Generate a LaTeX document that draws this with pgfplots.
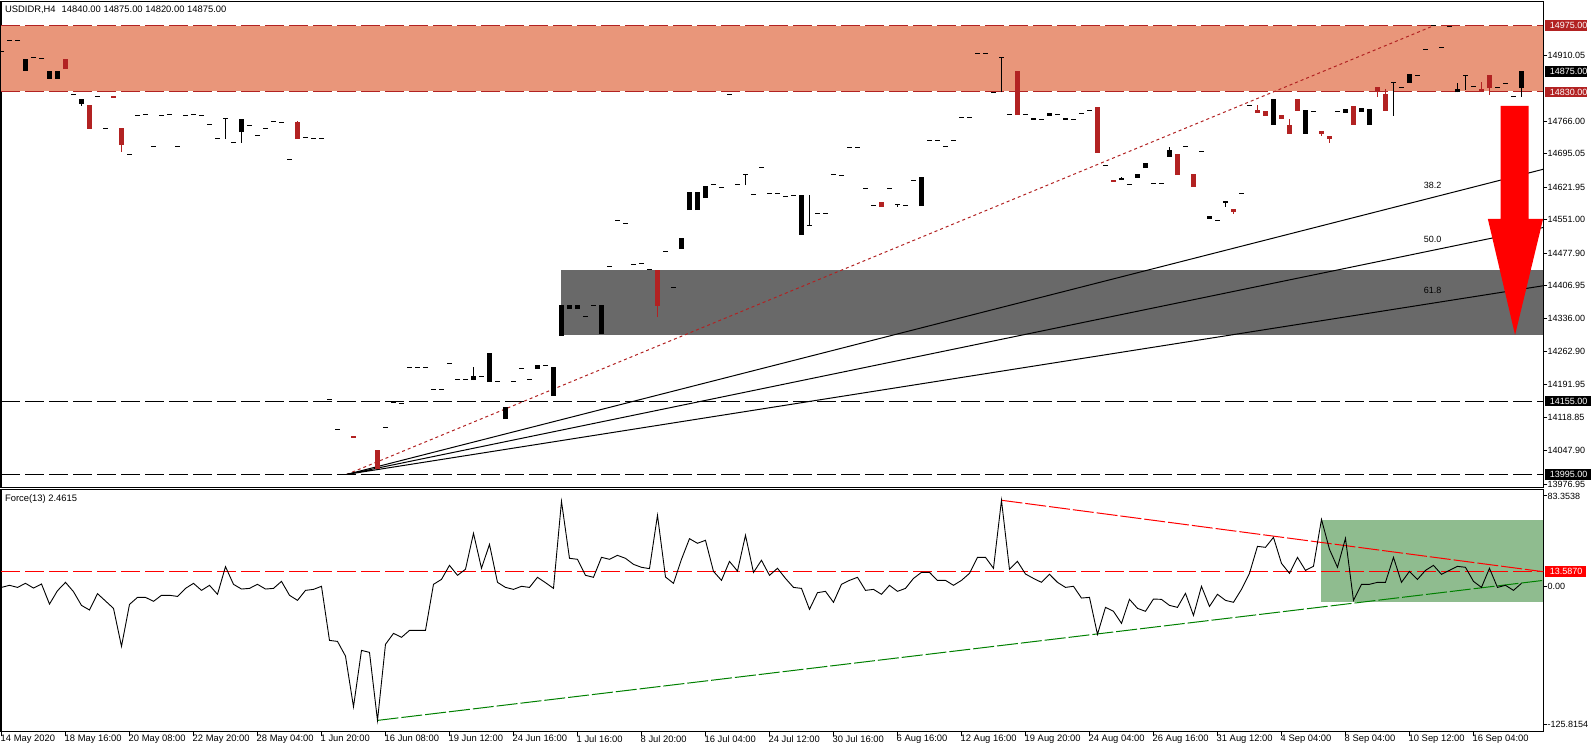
\documentclass[border=0pt]{standalone}
\usepackage{pgfplots}
\usepackage{pgfplotstable}
\usepackage{fontspec}
\setmainfont{Liberation Sans}
\pgfplotsset{compat=1.18}
\definecolor{salmonz}{HTML}{E9967A}
\definecolor{fire}{HTML}{B22222}
\definecolor{dimg}{HTML}{696969}
\definecolor{seag}{HTML}{8FBC8F}
\definecolor{grn}{HTML}{008000}
\newcommand{\fs}{\fontsize{9}{10}\selectfont}
\newcommand{\fl}{\fontsize{9.4}{10}\selectfont}
% columns: bar index, lower and upper price of the candle body
\pgfplotstableread{
i lo hi
3 14875.7 14901.9
6 14858.2 14875.7
7 14858.2 14875.7
10 14803.7 14814.6
30 14742.5 14770.9
59 14201.1 14209.8
61 14196.7 14260
63 14115.9 14142.2
67 14225.1 14233.9
69 14166.2 14229.5
70 14297.2 14364.9
71 14356.1 14364.9
72 14356.1 14364.9
75 14301.5 14364.9
85 14487.1 14510.4
86 14572.2 14611.5
87 14572.2 14611.5
88 14598.4 14624.6
100 14517.7 14605
115 14580.9 14644.3
129 14769.4 14773.1
131 14777.5 14784
133 14769.4 14773.1
140 14637.7 14642.1
142 14642.1 14650.8
143 14663.9 14674.1
146 14688 14703.2
151 14552.6 14559.2
153 14588.2 14591.1
159 14757.8 14814.6
163 14738.2 14790.6
168 14784 14792.7
170 14786.2 14794.9
171 14757.8 14792.7
176 14849.5 14869.1
182 14829.1 14836.4
190 14838.6 14875.7
}\blackbody
\pgfplotstableread{
i lo hi
8 14880 14901.9
11 14749.1 14801.5
14 14816.8 14821.1
15 14714.1 14751.3
37 14727.2 14764.4
44 14075.2 14078.9
47 14007.5 14048.3
82 14362.7 14441.2
110 14578.8 14589.7
127 14779.6 14875.7
137 14696.7 14797.1
139 14633.4 14637.7
147 14648.6 14694.5
149 14622.5 14650.8
154 14568 14574.4
157 14784 14790.6
158 14777.5 14788.4
160 14770.9 14779.6
161 14738.2 14757.8
162 14788.4 14814.6
165 14738.2 14744.7
166 14727.2 14733.8
169 14757.8 14799.3
172 14832 14840.8
173 14788.4 14825.5
185 14832 14835.7
186 14838.6 14867
}\redbody
\pgfplotstableread{
i lo hi
10 14799.3 14814.6
28 14727.2 14770.9
30 14718.5 14770.9
59 14201.1 14229.5
93 14626.8 14650.1
101 14538.8 14605
112 14578.8 14584.6
125 14829.1 14905.5
140 14637.7 14644.3
146 14688 14709.8
153 14578.8 14591.1
174 14777.5 14850.9
182 14829.1 14849.5
183 14834.2 14866.2
190 14819 14875.7
}\blackwick
\pgfplotstableread{
i lo hi
15 14698.9 14714.1
37 14764.4 14766.5
82 14338.6 14362.7
154 14563.5 14574.4
157 14784 14800.7
161 14757.8 14770.9
165 14733.8 14744.7
166 14718.5 14733.8
172 14819 14840.8
173 14825.5 14836.4
185 14832 14851.7
186 14823.3 14867
}\redwick
\pgfplotstableread{
i p
0 14918.6
1 14942.6
2 14942.6
4 14905.5
5 14903.4
9 14824.8
12 14820.4
13 14750.5
16 14693.8
17 14778.9
18 14781.1
19 14709.8
20 14778.9
21 14781.1
22 14709.8
23 14778.9
24 14781.1
25 14778.9
26 14759.2
27 14728.7
28 14770.9
29 14720
31 14757.1
32 14735.2
33 14750.5
34 14765.8
35 14763.6
36 14682.9
38 14730.9
39 14728.7
40 14728.7
41 14158.9
42 14093.4
43 13995.1
45 14001
46 14004.6
48 14097.8
49 14152.4
50 14150.2
51 14228.8
52 14228.8
53 14228.8
54 14180.7
55 14180.7
56 14237.5
57 14202.6
58 14202.6
60 14209.1
62 14198.2
64 14198.2
65 14226.6
66 14202.6
68 14233.1
73 14340.1
74 14364.1
76 14449.3
77 14549.7
78 14543.1
79 14453.6
80 14455.8
81 14442.7
83 14482
84 14403.4
89 14628.3
90 14621.7
91 14824.8
92 14628.3
93 14650.1
94 14606.4
95 14665.4
96 14608.6
97 14608.6
98 14602.1
99 14604.3
101 14538.8
102 14565
103 14565
104 14650.1
105 14647.9
106 14709
107 14709
108 14619.6
109 14582.4
111 14619.6
112 14584.6
113 14582.4
114 14637
116 14724.3
117 14724.3
118 14711.2
119 14724.3
120 14774.5
121 14774.5
122 14914.3
123 14914.3
124 14829.1
125 14905.5
126 14781.1
128 14781.1
130 14770.2
132 14781.1
134 14770.2
135 14783.3
136 14789.8
138 14669.8
141 14628.3
144 14630.5
145 14630.5
148 14709.8
150 14700.3
152 14549.7
155 14608.6
156 14800.7
164 14787.6
167 14787.6
174 14850.9
175 14840
177 14866.2
178 14923
179 14975.4
180 14927.4
181 14973
183 14866.2
184 14842.2
187 14840
188 14848.8
189 14820.4
}\doji
\pgfplotstableread{
i v
0 -1.0
1 0.9
2 -1.0
3 2.7
4 -1.6
5 2.1
6 -16.2
7 -4.0
8 3.6
9 -4.9
10 -17.4
11 -21.6
12 -6.7
13 -13.4
14 -20.1
15 -54.7
16 -16.5
17 -10.1
18 -10.1
19 -13.7
20 -8.2
21 -8.2
22 -9.2
23 -1.9
24 2.7
25 -3.7
26 0.9
27 -7.3
28 17.9
29 1.8
30 -2.5
31 -1.9
32 1.8
33 -2.5
34 -1.9
35 4.5
36 -8.2
37 -12.8
38 -3.7
39 -2.8
40 0.0
41 -49.3
42 -50.2
43 -63.6
44 -109.8
45 -58.4
46 -60.2
47 -122.2
48 -52.9
49 -42.9
50 -46.5
51 -40.2
52 -40.2
53 -40.2
54 1.8
55 6.3
56 19.1
57 10.0
58 15.5
59 48.3
60 16.4
61 38.2
62 3.6
63 -1.0
64 -2.8
65 0.0
66 -1.0
67 8.2
68 3.3
69 -1.9
70 77.4
71 25.5
72 24.6
73 10.0
74 8.2
75 26.4
76 24.6
77 28.2
78 25.5
79 20.0
80 17.3
81 16.1
82 64.7
83 8.5
84 2.7
85 24.6
86 43.4
87 39.2
88 41.9
89 13.6
90 5.4
91 22.7
92 13.9
93 46.5
94 12.7
95 23.7
96 10.0
97 16.4
98 7.2
99 -1.0
100 -1.9
101 -21.0
102 -5.8
103 -4.6
104 -14.6
105 1.8
106 5.4
107 8.2
108 -3.7
109 -2.8
110 -7.3
111 0.9
112 -4.6
113 -1.9
114 7.2
115 12.7
116 12.7
117 5.4
118 5.4
119 0.9
120 5.4
121 11.8
122 26.4
123 26.4
124 16.4
125 78.4
126 15.5
127 22.7
128 11.2
129 7.2
130 3.6
131 10.9
132 3.6
133 -1.0
134 0.0
135 -10.7
136 -10.1
137 -43.8
138 -19.2
139 -22.8
140 -33.8
141 -11.9
142 -20.1
143 -22.8
144 -11.6
145 -11.9
146 -17.4
147 -19.2
148 -6.4
149 -26.5
150 0.0
151 -18.3
152 -7.3
153 -12.8
154 -14.6
155 -2.8
156 11.8
157 36.4
158 35.5
159 44.6
160 20.9
161 11.8
162 26.4
163 14.5
164 18.2
165 61.0
166 33.7
167 17.3
168 43.7
169 -12.8
170 1.8
171 1.8
172 3.6
173 3.6
174 26.4
175 3.6
176 13.6
177 6.3
178 14.5
179 19.1
180 10.9
181 14.5
182 18.2
183 17.3
184 4.5
185 -1.0
186 16.4
187 -1.0
188 0.9
189 -3.7
190 2.7
}\force
\pgfplotsset{
  panel/.style={
    scale only axis, width=1542.3pt, clip mode=individual,
    xmin=-0.0625, xmax=192.73, scaled y ticks=false,
    axis line style={line width=1.2pt,black},
    tick style={line width=1pt,black},
    tick align=outside, major tick length=4pt,
    ytick pos=right, yticklabel pos=right,
    y tick label style={font=\fs,anchor=west,inner xsep=0pt},
  },
  bars/.style n args={2}{draw=none, mark=none, forget plot,
    error bars/.cd, y dir=plus, y explicit, error mark=none,
    error bar style={draw=#1,solid,line width=#2}},
}
\newcommand{\boxlab}[6]{% x, y, fill, text colour, width, label
  \node[anchor=west,inner xsep=0pt,inner ysep=0pt,minimum height=10.5pt,fill=#3,text=#4,font=\fs,xshift=1.8pt] at (axis cs:#1,#2) {\hspace{4.5pt}\makebox[#5][l]{#6}};}
\begin{document}
\begin{tikzpicture}[x=1pt,y=1pt]
\useasboundingbox (0,0) rectangle (1594,752);
\begin{axis}[panel, at={(1pt,264.7pt)}, anchor=south west, height=485.8pt,
  ymin=13966.9, ymax=15027.4, xtick=\empty,
  ytick={14910.05,14766,14695.05,14621.95,14551,14477.9,14406.95,14336,14262.9,14191.95,14118.85,14047.9,13973},
  yticklabels={14910.05,14766.00,14695.05,14621.95,14551.00,14477.90,14406.95,14336.00,14262.90,14191.95,14118.85,14047.90,13976.95}]
\addplot[fill=salmonz,draw=none,forget plot] coordinates {(-0.0625,14830)(192.73,14830)(192.73,14975)(-0.0625,14975)} -- cycle;
\addplot[fill=dimg,draw=none,forget plot] coordinates {(69.9,14299.4)(192.73,14299.4)(192.73,14441)(69.9,14441)} -- cycle;
\addplot[white,line width=1pt,forget plot] coordinates {(-0.0625,14975)(192.73,14975)};
\addplot[white,line width=1pt,forget plot] coordinates {(-0.0625,14830)(192.73,14830)};
\addplot[fire,line width=1pt,dash pattern=on 18.6pt off 5.4pt,forget plot] coordinates {(-0.0625,14975)(192.73,14975)};
\addplot[fire,line width=1pt,dash pattern=on 18.6pt off 5.4pt,forget plot] coordinates {(-0.0625,14830)(192.73,14830)};
\addplot[black,line width=1pt,dash pattern=on 18.6pt off 5.4pt,forget plot] coordinates {(-0.0625,14155)(192.73,14155)};
\addplot[black,line width=1pt,dash pattern=on 18.6pt off 5.4pt,forget plot] coordinates {(-0.0625,13995)(192.73,13995)};
% fan
\addplot[fire,line width=1pt,dash pattern=on 3pt off 3pt,forget plot] coordinates {(43.15,13995)(179.1,14975)};
\addplot[black,line width=1pt,forget plot] coordinates {(43.15,13995)(192.73,14661.2)};
\addplot[black,line width=1pt,forget plot] coordinates {(43.15,13995)(192.73,14534)};
\addplot[black,line width=1pt,forget plot] coordinates {(43.15,13995)(192.73,14406.9)};
% candles
\addplot[bars={black}{1pt}] table[x=i,y=lo,y error plus expr=\thisrow{hi}-\thisrow{lo},y error minus expr=0] {\blackwick};
\addplot[bars={fire}{1pt}] table[x=i,y=lo,y error plus expr=\thisrow{hi}-\thisrow{lo},y error minus expr=0] {\redwick};
\addplot[bars={black}{5pt}] table[x=i,y=lo,y error plus expr=\thisrow{hi}-\thisrow{lo},y error minus expr=0] {\blackbody};
\addplot[bars={fire}{5pt}] table[x=i,y=lo,y error plus expr=\thisrow{hi}-\thisrow{lo},y error minus expr=0] {\redbody};
\addplot[only marks,mark=-,mark size=2.5pt,mark options={line width=1pt,black},forget plot] table[x=i,y=p] {\doji};
% arrow
\addplot[fill=red,draw=none,forget plot] coordinates {(187.4,14799.3)(190.9,14799.3)(190.9,14552.6)(192.7,14552.6)(189.2,14299.4)(185.8,14552.6)(187.4,14552.6)} -- cycle;
\node[font=\fs,inner sep=0pt] at (axis cs:178.9,14625.3) {38.2};
\node[font=\fs,inner sep=0pt] at (axis cs:178.9,14509) {50.0};
\node[font=\fs,inner sep=0pt] at (axis cs:178.9,14396) {61.8};
\boxlab{192.73}{14975}{fire}{white}{37.5pt}{14975.00}
\boxlab{192.73}{14875}{black}{white}{37.5pt}{14875.00}
\boxlab{192.73}{14830}{fire}{white}{37.5pt}{14830.00}
\boxlab{192.73}{14155}{black}{white}{41.2pt}{14155.00}
\boxlab{192.73}{13995}{black}{white}{41.2pt}{13995.00}
\node[anchor=west,font=\fl,inner sep=0pt] at (rel axis cs:0.0025,0.9835) {USDIDR,H4\hspace{6pt}14840.00 14875.00 14820.00 14875.00};
\end{axis}
\begin{axis}[panel, at={(1pt,20.3pt)}, anchor=south west, height=242.4pt,
  ymin=-132.5, ymax=88.4,
  ytick={82.3,0,-125.8154}, yticklabels={83.3538,0.00,-125.8154},
  xtick={0,8,...,184}, xtick pos=bottom,
  xticklabels={14 May 2020,18 May 16:00,20 May 08:00,22 May 20:00,28 May 04:00,1 Jun 20:00,16 Jun 08:00,19 Jun 12:00,24 Jun 16:00,1 Jul 16:00,8 Jul 20:00,16 Jul 04:00,24 Jul 12:00,30 Jul 16:00,6 Aug 16:00,12 Aug 16:00,19 Aug 20:00,24 Aug 04:00,26 Aug 16:00,31 Aug 12:00,4 Sep 04:00,8 Sep 04:00,10 Sep 12:00,16 Sep 04:00},
  x tick label style={font=\fl,anchor=north west,inner xsep=0pt,inner ysep=0pt,xshift=-1pt,yshift=0.5pt}]
\addplot[fill=seag,draw=none,forget plot] coordinates {(164.9,-14.3)(192.73,-14.3)(192.73,60.4)(164.9,60.4)} -- cycle;
\addplot[red,line width=1pt,dash pattern=on 18.6pt off 5.4pt,forget plot] coordinates {(-0.0625,13.587)(192.73,13.587)};
\addplot[grn,line width=1pt,dash pattern=on 21pt off 3pt,forget plot] coordinates {(47,-122.2)(192.73,5.4)};
\addplot[red,line width=1pt,dash pattern=on 21pt off 3pt,forget plot] coordinates {(125,78.4)(192.73,13.3)};
\addplot[black,line width=0.9pt,forget plot] table[x=i,y=v] {\force};
\boxlab{192.73}{13.587}{red}{white}{36pt}{13.5870}
\node[anchor=west,font=\fl,inner sep=0pt] at (rel axis cs:0.0025,0.96) {Force(13) 2.4615};
\end{axis}
\end{tikzpicture}
\end{document}
